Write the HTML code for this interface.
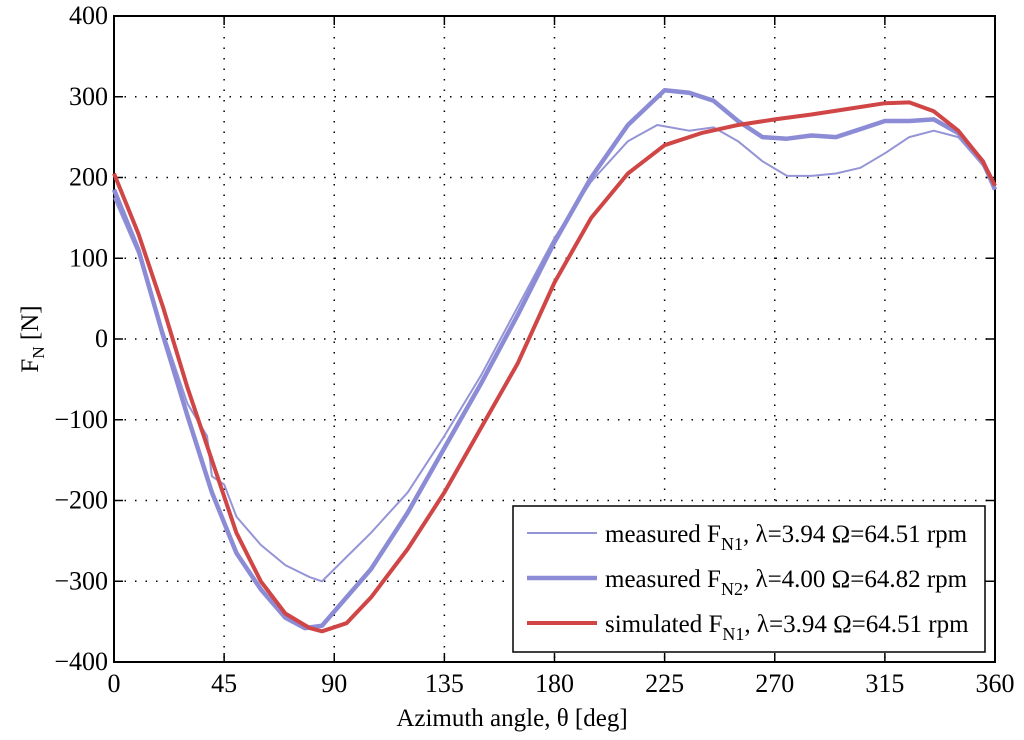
<!DOCTYPE html>
<html><head><meta charset="utf-8"><style>
body{margin:0;background:#fff}
svg text{font-family:"Liberation Serif",serif;fill:#000}
</style></head><body>
<svg id="chart" width="1024" height="735"></svg>
<script>
const xTicks=[0,45,90,135,180,225,270,315,360];
const yTicks=[-400,-300,-200,-100,0,100,200,300,400];
const simX=[0,10,20,30,40,50,60,70,80,85,95,105,120,135,150,165,180,195,210,225,240,255,270,285,300,315,325,335,345,355,360];
const simY=[205,130,40,-60,-150,-240,-300,-340,-358,-362,-352,-320,-260,-190,-110,-30,70,150,205,240,255,265,272,278,285,292,293,282,258,220,190];
const m2X=[0,10,20,30,40,50,60,70,78,85,95,105,120,135,150,165,180,195,210,225,235,245,255,265,275,285,295,305,315,325,335,345,355,360];
const m2Y=[185,110,5,-95,-190,-265,-310,-345,-358,-355,-320,-285,-215,-135,-55,30,120,200,265,308,305,295,270,250,248,252,250,260,270,270,272,255,220,185];
const m1X=[0,10,20,30,38,40,45,50,60,70,80,85,95,105,120,135,150,165,180,195,210,222,235,245,255,265,275,285,295,305,315,325,335,345,355,360];
const m1Y=[175,105,10,-80,-120,-170,-180,-220,-255,-280,-295,-300,-270,-240,-190,-120,-45,40,125,195,245,265,258,262,245,220,202,202,205,212,230,250,258,250,215,185];
const NS='http://www.w3.org/2000/svg';
const svg=document.getElementById('chart');
const X0=114,X1=995,Y0=662,Y1=16;
const sx=v=>X0+(v-0)/360*(X1-X0);
const sy=v=>Y0-(v+400)/800*(Y0-Y1);
function mk(t,a,p){const e=document.createElementNS(NS,t);for(const k in a)e.setAttribute(k,a[k]);(p||svg).appendChild(e);return e;}
xTicks.forEach(t=>{
 if(t>0&&t<360){const g=mk('line',{x1:sx(t),x2:sx(t),y1:Y1,y2:Y0,stroke:'#000','stroke-width':1.5,'stroke-dasharray':'1.5 9'});
 
 
 mk('line',{x1:sx(t),x2:sx(t),y1:Y0,y2:Y0-9,stroke:'#000','stroke-width':1.5});
 mk('line',{x1:sx(t),x2:sx(t),y1:Y1,y2:Y1+9,stroke:'#000','stroke-width':1.5});}
 const l=mk('text',{x:sx(t),y:Y0+30,'font-size':26,'text-anchor':'middle'});l.textContent=t;
 
 
});
yTicks.forEach(t=>{
 if(t>-400&&t<400){const g=mk('line',{x1:X0,x2:X1,y1:sy(t),y2:sy(t),stroke:'#000','stroke-width':1.5,'stroke-dasharray':'1.5 9'});
 
 
 mk('line',{x1:X0,x2:X0+9,y1:sy(t),y2:sy(t),stroke:'#000','stroke-width':1.5});
 mk('line',{x1:X1,x2:X1-9,y1:sy(t),y2:sy(t),stroke:'#000','stroke-width':1.5});}
 const l=mk('text',{x:X0-6,y:sy(t)+8,'font-size':26,'text-anchor':'end'});l.textContent=t===0?'0':(t<0?'\u2212'+(-t):t);
 
 
});
const box=mk('rect',{x:X0,y:Y1,width:X1-X0,height:Y0-Y1,fill:'none',stroke:'#000','stroke-width':2});


function line(xs,ys,col,w,name){
 const d=xs.map((x,i)=>(i?'L':'M')+sx(x).toFixed(1)+','+sy(ys[i]).toFixed(1)).join('');
 const p=mk('path',{d:d,fill:'none',stroke:col,'stroke-width':w,'stroke-linejoin':'round'});
 
 
}
line(m1X,m1Y,'#9494d6',2,'measured-fn1-line');
line(m2X,m2Y,'#8c8cd6',4.5,'measured-fn2-line');
line(simX,simY,'#d04646',4,'simulated-fn1-line');
</script>
<svg style="position:absolute;left:0;top:0" width="1024" height="735">
<text x="512" y="726" font-size="25" text-anchor="middle">Azimuth angle, θ [deg]</text>
<text transform="translate(38,339) rotate(-90)" font-size="25" text-anchor="middle">F<tspan font-size="17" dy="6">N</tspan><tspan dy="-6"> [N]</tspan></text>
<g>
<rect x="513" y="506" width="472" height="146" fill="#fff" stroke="#000" stroke-width="1.5"/>
<line x1="527" x2="597" y1="533" y2="533" stroke="#9494d6" stroke-width="2"/>
<line x1="527" x2="597" y1="578" y2="578" stroke="#8c8cd6" stroke-width="4.5"/>
<line x1="527" x2="597" y1="623" y2="623" stroke="#d04646" stroke-width="4"/>
<text x="605" y="542" font-size="25">measured F<tspan font-size="18" dy="8">N1</tspan><tspan dy="-8">, λ=3.94 Ω=64.51 rpm</tspan></text>
<text x="605" y="587" font-size="25">measured F<tspan font-size="18" dy="8">N2</tspan><tspan dy="-8">, λ=4.00 Ω=64.82 rpm</tspan></text>
<text x="605" y="632" font-size="25">simulated F<tspan font-size="18" dy="8">N1</tspan><tspan dy="-8">, λ=3.94 Ω=64.51 rpm</tspan></text>
</g>
</svg>
</body></html>
